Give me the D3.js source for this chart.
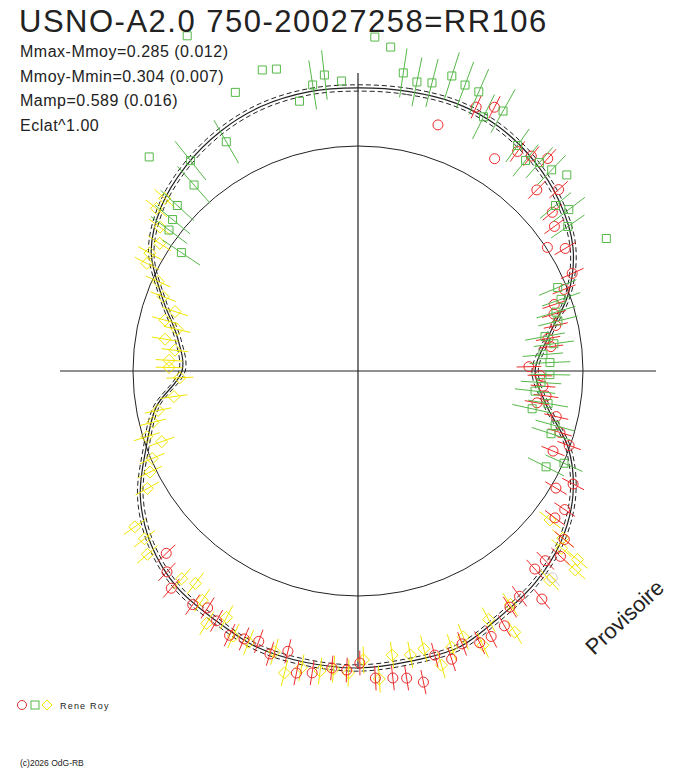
<!DOCTYPE html>
<html>
<head>
<meta charset="utf-8">
<script src="https://cdn.jsdelivr.net/npm/d3@7/dist/d3.min.js"></script>
<style>
  body { margin: 0; background: #fff; }
  text { font-family: "Liberation Sans", Arial, sans-serif; fill: #222; }
</style>
</head>
<body>
<svg id="chart" width="688" height="768"></svg>
<script>
// ---- data ----
const titleText = "USNO-A2.0 750-20027258=RR106";
const statLines = ["Mmax-Mmoy=0.285 (0.012)", "Mmoy-Mmin=0.304 (0.007)", "Mamp=0.589 (0.016)", "Eclat^1.00"];
const observer = "Rene Roy";
const copyright = "(c)2026 OdG-RB";
const stamp = "Provisoire";

// mean light curve: [phase, relative brightness]
const curve = [
  [0.000, 1.258], [0.028, 1.262], [0.056, 1.267], [0.083, 1.253], [0.111, 1.218], [0.139, 1.169],
  [0.167, 1.102], [0.194, 0.996], [0.222, 0.858], [0.250, 0.787], [0.278, 0.849], [0.306, 0.996],
  [0.333, 1.102], [0.361, 1.178], [0.389, 1.227], [0.417, 1.262], [0.444, 1.307], [0.472, 1.311],
  [0.500, 1.320], [0.528, 1.316], [0.556, 1.307], [0.583, 1.276], [0.611, 1.253], [0.639, 1.200],
  [0.667, 1.116], [0.694, 1.004], [0.722, 0.911], [0.750, 0.782], [0.778, 0.813], [0.806, 0.924],
  [0.833, 1.060], [0.861, 1.140], [0.889, 1.190], [0.917, 1.228], [0.944, 1.252], [0.972, 1.260]
];
const curveErr = 0.014;

// observations: [phase, relative brightness, error]
const greenObs = [
  [0.024, 1.340, 0.11], [0.032, 1.311, 0.11], [0.040, 1.322, 0.11], [0.049, 1.376, 0.11], [0.057, 1.357, 0.11],
  [0.065, 1.352, 0.11], [0.081, 1.323, 0.11], [0.073, 1.260, 0.11], [0.098, 1.228, 0.09], [0.107, 1.196, 0.09],
  [0.114, 1.228, 0.09], [0.122, 1.241, 0.09], [0.139, 1.145, 0.09], [0.146, 1.180, 0.09], [0.154, 1.132, 0.09],
  [0.187, 0.962, 0.09], [0.196, 0.957, 0.09], [0.204, 0.918, 0.09], [0.211, 0.916, 0.09], [0.221, 0.845, 0.09],
  [0.228, 0.879, 0.09], [0.236, 0.825, 0.09], [0.243, 0.854, 0.09], [0.253, 0.853, 0.09], [0.260, 0.815, 0.09],
  [0.268, 0.792, 0.09], [0.277, 0.857, 0.09], [0.284, 0.792, 0.09], [0.293, 0.909, 0.09], [0.300, 0.902, 0.09],
  [0.317, 1.003, 0.09], [0.325, 0.938, 0.09],
  [0.982, 1.324, 0.11], [0.975, 1.287, 0.11], [0.917, 1.175, 0.11], [0.893, 1.195, 0.11], [0.885, 1.102, 0.11],
  [0.868, 1.089, 0.10], [0.859, 1.064, 0.10], [0.852, 1.048, 0.10], [0.844, 0.945, 0.10],
  [0.877, 1.329, 0], [0.934, 1.353, 0], [0.951, 1.404, 0], [0.958, 1.390, 0], [0.966, 1.227, 0],
  [0.991, 1.291, 0], [0.925, 1.672, 0], [0.008, 1.486, 0], [0.016, 1.447, 0], [0.130, 1.273, 0], [0.172, 1.251, 0]
];
const redObs = [
  [0.067, 1.285, 0.055], [0.076, 1.320, 0.055], [0.100, 1.206, 0.055], [0.108, 1.227, 0.055], [0.116, 1.266, 0.055],
  [0.124, 1.131, 0.055], [0.133, 1.202, 0.055], [0.141, 1.115, 0.055], [0.149, 1.084, 0.055], [0.165, 1.070, 0.055],
  [0.182, 1.046, 0.055], [0.190, 0.985, 0.055], [0.198, 0.921, 0.055], [0.205, 0.907, 0.055], [0.214, 0.902, 0.055],
  [0.223, 0.857, 0.055], [0.230, 0.864, 0.055], [0.246, 0.760, 0.055], [0.254, 0.809, 0.055], [0.263, 0.825, 0.055],
  [0.271, 0.843, 0.055], [0.278, 0.808, 0.055], [0.286, 0.904, 0.055], [0.297, 0.938, 0.055], [0.304, 0.995, 0.055],
  [0.312, 0.937, 0.055], [0.327, 1.080, 0.055], [0.335, 1.022, 0.055], [0.344, 1.106, 0.055], [0.352, 1.092, 0.055],
  [0.359, 1.184, 0.055], [0.368, 1.220, 0.055], [0.376, 1.185, 0.055], [0.384, 1.180, 0.055], [0.401, 1.232, 0.055],
  [0.392, 1.302, 0.055], [0.409, 1.248, 0.055], [0.417, 1.306, 0.055], [0.426, 1.320, 0.055], [0.433, 1.323, 0.055],
  [0.442, 1.298, 0.055], [0.450, 1.347, 0.055], [0.458, 1.308, 0.055], [0.467, 1.413, 0.055], [0.475, 1.382, 0.055],
  [0.482, 1.373, 0.055], [0.491, 1.367, 0.055], [0.499, 1.298, 0.055], [0.506, 1.330, 0.055], [0.514, 1.325, 0.055],
  [0.524, 1.357, 0.055], [0.532, 1.370, 0.055], [0.539, 1.284, 0.055], [0.548, 1.317, 0.055], [0.556, 1.280, 0.055],
  [0.564, 1.294, 0.055], [0.572, 1.306, 0.055], [0.582, 1.276, 0.055], [0.590, 1.247, 0.055], [0.598, 1.272, 0.055],
  [0.613, 1.273, 0.055], [0.621, 1.232, 0.055], [0.629, 1.176, 0.055],
  [0.050, 1.150, 0], [0.091, 1.122, 0], [0.158, 1.005, 0]
];
const yellowObs = [
  [0.866, 1.152, 0.06], [0.858, 1.151, 0.06], [0.850, 1.088, 0.06], [0.841, 1.048, 0.06], [0.832, 1.063, 0.06],
  [0.825, 1.053, 0.06], [0.817, 0.973, 0.06], [0.808, 0.927, 0.06], [0.800, 0.855, 0.06], [0.791, 0.887, 0.06],
  [0.786, 0.825, 0.06], [0.776, 0.869, 0.06], [0.768, 0.819, 0.06], [0.759, 0.841, 0.06], [0.753, 0.840, 0.06],
  [0.744, 0.792, 0.06], [0.728, 0.826, 0.06], [0.719, 0.906, 0.06], [0.711, 0.939, 0.06], [0.702, 0.983, 0.06],
  [0.695, 0.927, 0.06], [0.686, 0.994, 0.06], [0.678, 1.028, 0.06], [0.669, 1.072, 0.06], [0.653, 1.210, 0.06],
  [0.644, 1.207, 0.06], [0.636, 1.241, 0.06], [0.612, 1.211, 0.06], [0.604, 1.189, 0.06], [0.595, 1.232, 0.06],
  [0.578, 1.241, 0.06], [0.586, 1.308, 0.06], [0.570, 1.302, 0.06], [0.561, 1.300, 0.06], [0.546, 1.302, 0.06],
  [0.538, 1.381, 0.06], [0.530, 1.343, 0.06], [0.520, 1.344, 0.06], [0.513, 1.329, 0.06], [0.505, 1.343, 0.06],
  [0.497, 1.284, 0.06], [0.489, 1.372, 0.06], [0.481, 1.272, 0.06], [0.471, 1.283, 0.06], [0.463, 1.269, 0.06],
  [0.456, 1.359, 0.06], [0.448, 1.296, 0.06], [0.440, 1.271, 0.06], [0.432, 1.339, 0.06], [0.423, 1.248, 0.06],
  [0.408, 1.239, 0.06], [0.414, 1.354, 0.06], [0.382, 1.261, 0.06], [0.363, 1.286, 0.06], [0.368, 1.309, 0.06],
  [0.364, 1.200, 0.06], [0.359, 1.175, 0.06], [0.355, 1.080, 0.06]
];
const greyObs = [
  [0.380, 1.261, 0.05]
];

// ---- layout ----
const svg = d3.select("#chart");
const cx = 358, cy = 371, R = 225, axisHalf = 298;

const aScale = d3.scaleLinear().domain([0, 1]).range([0, 2 * Math.PI]);
const rScale = d3.scaleLinear().domain([0, 1]).range([0, R]);

function px(phase, flux) {
  let a = aScale(phase), r = rScale(flux);
  return [r * Math.sin(a), -r * Math.cos(a)];
}

let plotG = svg.append("g").attr("transform", `translate(${cx},${cy})`);

/* reference circle + cross */
plotG.append("circle")
  .attr("r", rScale(1))
  .attr("fill", "none").attr("stroke", "#222").attr("stroke-width", 1);

plotG.append("line")
  .attr("x1", -axisHalf).attr("x2", axisHalf).attr("y1", 0).attr("y2", 0)
  .attr("stroke", "#222").attr("stroke-width", 1.2);
plotG.append("line")
  .attr("y1", -axisHalf).attr("y2", axisHalf).attr("x1", 0).attr("x2", 0)
  .attr("stroke", "#222").attr("stroke-width", 1.2);

/* mean curve with error envelope */
let radial = d3.lineRadial()
  .angle(d => aScale(d[0]))
  .curve(d3.curveCatmullRomClosed.alpha(0.5));

[-curveErr, curveErr].forEach(e => {
  plotG.append("path")
    .attr("d", radial.radius(d => rScale(d[1] + e))(curve))
    .attr("fill", "none").attr("stroke", "#222").attr("stroke-width", 1)
    .attr("stroke-dasharray", "5,3");
});
plotG.append("path")
  .attr("d", radial.radius(d => rScale(d[1]))(curve))
  .attr("fill", "none").attr("stroke", "#222").attr("stroke-width", 1.2);

/* observations */
function drawSeries(data, color, shape) {
  let g = plotG.append("g");
  // radial error bars
  g.selectAll("line")
    .data(data.filter(d => d[2] > 0))
    .enter().append("line")
    .attr("x1", d => px(d[0], d[1] - d[2])[0])
    .attr("y1", d => px(d[0], d[1] - d[2])[1])
    .attr("x2", d => px(d[0], d[1] + d[2])[0])
    .attr("y2", d => px(d[0], d[1] + d[2])[1])
    .attr("stroke", color).attr("stroke-width", 1);

  let sym = g.selectAll("path.sym")
    .data(data)
    .enter().append("path")
    .attr("class", "sym")
    .attr("transform", d => `translate(${px(d[0], d[1])[0]},${px(d[0], d[1])[1]})`)
    .attr("fill", "none").attr("stroke", color).attr("stroke-width", 1);
  if (shape == "circle") sym.attr("d", "M5,0A5,5 0 1,1 -5,0A5,5 0 1,1 5,0Z");
  if (shape == "square") sym.attr("d", "M-4,-4H4V4H-4Z");
  if (shape == "diamond") sym.attr("d", "M0,-6L6,0L0,6L-6,0Z");
}

drawSeries(greyObs, "#c8c8c8", "circle");
drawSeries(yellowObs, "#f2e600", "diamond");
drawSeries(redObs, "#ee2a2a", "circle");
drawSeries(greenObs, "#55b847", "square");

/* texts */
svg.append("text")
  .attr("x", 19).attr("y", 32)
  .style("font-size", "31px")
  .style("letter-spacing", "1.5px")
  .text(titleText);

svg.selectAll("text.stat")
  .data(statLines)
  .enter().append("text")
  .attr("class", "stat")
  .attr("x", 20).attr("y", (d, i) => 57 + i * 24.7)
  .style("font-size", "16px")
  .style("letter-spacing", "0.5px")
  .text(d => d);

svg.append("text")
  .attr("transform", "translate(594,656) rotate(-43)")
  .style("font-size", "22px")
  .text(stamp);

/* legend */
let leg = svg.append("g").attr("transform", "translate(0,705)");
leg.append("circle").attr("cx", 22).attr("cy", 0).attr("r", 4.5)
  .attr("fill", "none").attr("stroke", "#e03030");
leg.append("rect").attr("x", 31).attr("y", -4).attr("width", 8).attr("height", 8)
  .attr("fill", "none").attr("stroke", "#55b847");
leg.append("path").attr("d", "M47,-5L52,0L47,5L42,0Z")
  .attr("fill", "none").attr("stroke", "#f2e600");
leg.append("text").attr("x", 60).attr("y", 3.5)
  .style("font-size", "9px").style("letter-spacing", "1.2px")
  .text(observer);

svg.append("text")
  .attr("x", 20).attr("y", 766)
  .style("font-size", "8.5px")
  .text(copyright);
</script>
</body>
</html>
